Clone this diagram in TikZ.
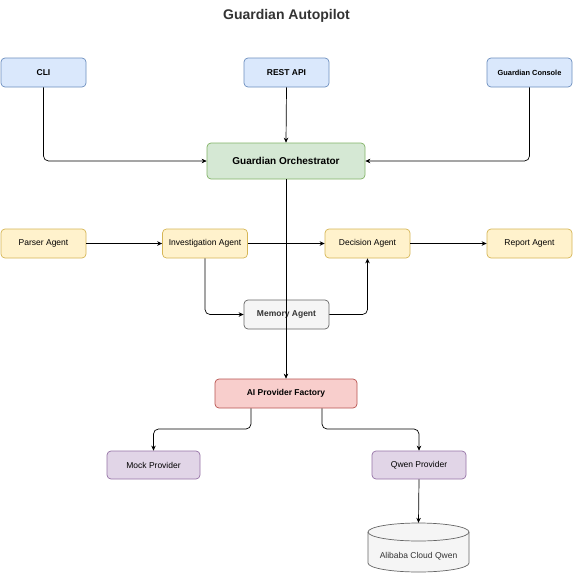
\documentclass[tikz,border=0pt]{standalone}
\usepackage{fontspec}
\setmainfont{Liberation Sans}
\usetikzlibrary{arrows.meta}
\definecolor{bluef}{HTML}{DAE8FC}\definecolor{blues}{HTML}{6C8EBF}
\definecolor{greenf}{HTML}{D5E8D4}\definecolor{greens}{HTML}{82B366}
\definecolor{yelf}{HTML}{FFF2CC}\definecolor{yels}{HTML}{D6B656}
\definecolor{greyf}{HTML}{F5F5F5}\definecolor{greys}{HTML}{666666}
\definecolor{redf}{HTML}{F8CECC}\definecolor{reds}{HTML}{B85450}
\definecolor{purf}{HTML}{E1D5E7}\definecolor{purs}{HTML}{9673A6}
\definecolor{txtgrey}{HTML}{333333}
\begin{document}
\begin{tikzpicture}[x=1pt,y=-1pt,
  box/.style={draw, rounded corners=4pt, line width=0.7pt, inner sep=0pt, align=center,
    minimum width=85pt, minimum height=29pt, font=\fontsize{8.5}{10}\selectfont},
  bluebox/.style={box, fill=bluef, draw=blues, font=\fontsize{8.5}{10}\selectfont\bfseries},
  greenbox/.style={box, fill=greenf, draw=greens, font=\fontsize{10}{12}\selectfont\bfseries},
  yelbox/.style={box, fill=yelf, draw=yels},
  greybox/.style={box, fill=greyf, draw=greys, text=txtgrey, font=\fontsize{8.5}{10}\selectfont\bfseries},
  redbox/.style={box, fill=redf, draw=reds, font=\fontsize{8.5}{10}\selectfont\bfseries},
  purbox/.style={box, fill=purf, draw=purs},
  conn/.style={draw=black, line width=0.7pt, rounded corners=5pt, -{Stealth[length=5pt,width=4.5pt]}}
]
\useasboundingbox[fill=white] (0,0) rectangle (573,573);

\node[font=\fontsize{14}{16}\selectfont\bfseries, text=txtgrey] (title) at (286.5,16) {Guardian Autopilot};

\node[bluebox] (cli) at (43.5,72.5) {CLI};
\node[bluebox] (rest) at (286.5,72.5) {REST API};
\node[bluebox, font=\fontsize{7.4}{9}\selectfont\bfseries] (console) at (529.5,72.5) {Guardian Console};

\node[greenbox, minimum width=158pt, minimum height=36pt] (orch) at (286,161) {Guardian Orchestrator};

\node[yelbox] (parser) at (43.5,243.5) {Parser Agent};
\node[yelbox] (inv) at (205,243.5) {Investigation Agent};
\node[yelbox] (dec) at (367.5,243.5) {Decision Agent};
\node[yelbox] (rep) at (529.5,243.5) {Report Agent};

\node[greybox] (mem) at (286.5,314.5) {Memory Agent};

\node[redbox, minimum width=142pt] (fac) at (286,393.5) {AI Provider Factory};

\node[purbox, minimum width=93pt, minimum height=28pt] (mock) at (153.5,465) {Mock Provider};
\node[purbox, minimum width=94pt, minimum height=28pt] (qwen) at (419,465) {Qwen Provider};

% cylinder
\draw[fill=greyf, draw=greys, line width=0.7pt]
  (368,532) -- (368,563) arc[start angle=180, end angle=0, x radius=50.5, y radius=9]
  -- (469,532) arc[start angle=0, end angle=-180, x radius=50.5, y radius=9] -- cycle;
\draw[draw=greys, line width=0.7pt] (368,532) arc[start angle=180, end angle=0, x radius=50.5, y radius=9];
\node[minimum width=101pt, minimum height=49pt, inner sep=0pt] (ali) at (418.5,547.5) {};
\node[text=txtgrey, font=\fontsize{8.5}{10}\selectfont] (alitext) at (418.5,556) {Alibaba Cloud Qwen};

% connectors
\draw[conn] (cli.south) |- (orch.west);
\draw[conn] (console.south) |- (orch.east);
\draw[conn] (rest.south) -- (orch.north);
\draw[conn] (parser.east) -- (inv.west);
\draw[conn] (inv.east) -- (dec.west);
\draw[conn] (dec.east) -- (rep.west);
\draw[conn] (inv.south) |- (mem.west);
\draw[conn] (mem.east) -| (dec.south);
\draw[conn] (orch.south) -- (fac.north);
\draw[conn] (fac.south -| 251,0) -- (251,429) -- (153.5,429) -- (mock.north);
\draw[conn] (fac.south -| 322,0) -- (322,429) -- (419,429) -- (qwen.north);
\draw[conn] (qwen.south) -- (ali.north);
\end{tikzpicture}
\end{document}
